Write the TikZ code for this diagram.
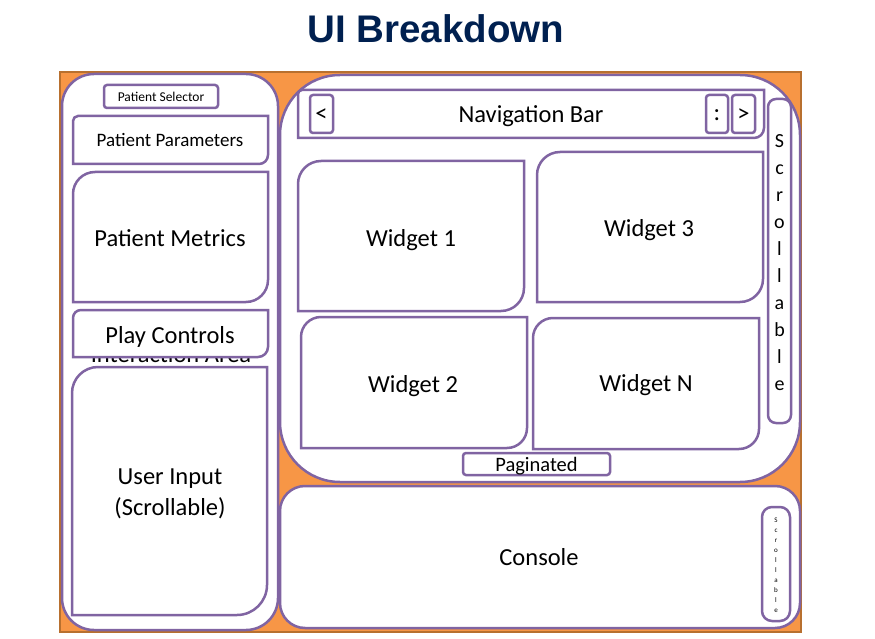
\documentclass[tikz,border=0pt]{standalone}
\usepackage{fontspec}
\setmainfont{Carlito}
\newfontfamily\titlefont{Liberation Sans}
\definecolor{uiorange}{HTML}{F79646}
\definecolor{uiedge}{HTML}{B8702F}
\definecolor{uipurple}{HTML}{8064A2}
\definecolor{uinavy}{HTML}{002050}

\begin{document}
\begin{tikzpicture}[x=1pt, y=-1pt,
  panel/.style={draw=uipurple, line width=2.5pt, fill=white},
  lbl/.style={inner sep=0pt, font=\fontsize{24.5}{29}\selectfont},
  scrl/.style={inner sep=0pt, anchor=base, font=\fontsize{20}{24}\selectfont}]
\useasboundingbox (0,0) rectangle (875,639);

\node[anchor=base, font=\titlefont\bfseries\fontsize{38.5}{44}\selectfont, text=uinavy] (title) at (436,43) {UI Breakdown};

% background
\filldraw[fill=uiorange, draw=uiedge, line width=1.5pt] (60,72) rectangle (801,632);

% left side
\filldraw[panel, rounded corners=32pt] (62,74) rectangle (278,630);
\filldraw[panel, rounded corners=3pt] (104,85) rectangle (218,108);
\node[lbl, font=\fontsize{13.5}{16}\selectfont] (selector) at (161,97) {Patient Selector};

\filldraw[panel] (73,164) -- (73,121) arc[start angle=180, end angle=270, radius=5] -- (268,116) -- (268,155) arc[start angle=0, end angle=90, radius=9] -- cycle;
\node[lbl, font=\fontsize{19}{23}\selectfont] (params) at (170,140) {Patient Parameters};

\filldraw[panel] (73,302) -- (73,194) arc[start angle=180, end angle=270, radius=22] -- (268,172) -- (268,280) arc[start angle=0, end angle=90, radius=22] -- cycle;
\node[lbl] (metrics) at (170,238) {Patient Metrics};

\node[lbl, anchor=base] (area) at (171,362) {Interaction Area};

\filldraw[panel] (73,357) -- (73,318) arc[start angle=180, end angle=270, radius=8] -- (268,310) -- (268,347) arc[start angle=0, end angle=90, radius=10] -- cycle;
\node[lbl] (play) at (170,337) {Play Controls};

\filldraw[panel] (72,615) -- (72,393) arc[start angle=180, end angle=270, radius=26] -- (267,367) -- (267,585) arc[start angle=0, end angle=90, radius=30] -- cycle;
\node[lbl, align=center, font=\fontsize{24.5}{30.5}\selectfont] (input) at (170,494) {User Input\\(Scrollable)};

% right side
\filldraw[panel, rounded corners=60pt] (280,75) rectangle (800,482);
\filldraw[panel, rounded corners=25pt] (280,486) rectangle (800,628);

\filldraw[panel] (298,138) -- (298,94) arc[start angle=180, end angle=270, radius=4] -- (764,90) -- (764,128) arc[start angle=0, end angle=90, radius=10] -- cycle;
\node[lbl] (navbar) at (531,116.5) {Navigation Bar};
\filldraw[panel, rounded corners=3pt] (310,95) rectangle (333,133);
\node[lbl] (prev) at (321.5,115) {<};
\filldraw[panel, rounded corners=3pt] (706,95) rectangle (728,133);
\node[lbl] (menu) at (717,115) {:};
\filldraw[panel, rounded corners=3pt] (732,95) rectangle (755,133);
\node[lbl] (next) at (743.5,115) {>};

\filldraw[panel, rounded corners=8pt] (768,99) rectangle (791,423);
\foreach \ch [count=\i] in {S,c,r,o,l,l,a,b,l,e}
  \node[scrl] (scroll\i) at (779.5,{148+26.9*(\i-1)}) {\ch};

\filldraw[panel] (298,311) -- (298,184) arc[start angle=180, end angle=270, radius=23] -- (524,161) -- (524,288) arc[start angle=0, end angle=90, radius=23] -- cycle;
\node[lbl] (w1) at (411,240) {Widget 1};
\filldraw[panel] (537,302) -- (537,175) arc[start angle=180, end angle=270, radius=23] -- (763,152) -- (763,279) arc[start angle=0, end angle=90, radius=23] -- cycle;
\node[lbl] (w3) at (649,230) {Widget 3};
\filldraw[panel] (301,448) -- (301,337) arc[start angle=180, end angle=270, radius=20] -- (527,317) -- (527,428) arc[start angle=0, end angle=90, radius=20] -- cycle;
\node[lbl] (w2) at (413,386) {Widget 2};
\filldraw[panel] (533,449) -- (533,338) arc[start angle=180, end angle=270, radius=20] -- (759,318) -- (759,429) arc[start angle=0, end angle=90, radius=20] -- cycle;
\node[lbl] (wn) at (646,385) {Widget N};

\filldraw[panel, rounded corners=3pt] (463,453) rectangle (610,475);
\node[lbl, font=\fontsize{20.5}{24}\selectfont] (pages) at (536.5,466) {Paginated};

% console
\node[lbl] (console) at (539,557) {Console};
\filldraw[panel, rounded corners=10pt] (762,507) rectangle (790,621);
\foreach \ch [count=\i] in {S,c,r,o,l,l,a,b,l,e}
  \node[scrl, font=\fontsize{7}{8}\selectfont] (cscroll\i) at (776,{522+10*(\i-1)}) {\ch};
\end{tikzpicture}
\end{document}
